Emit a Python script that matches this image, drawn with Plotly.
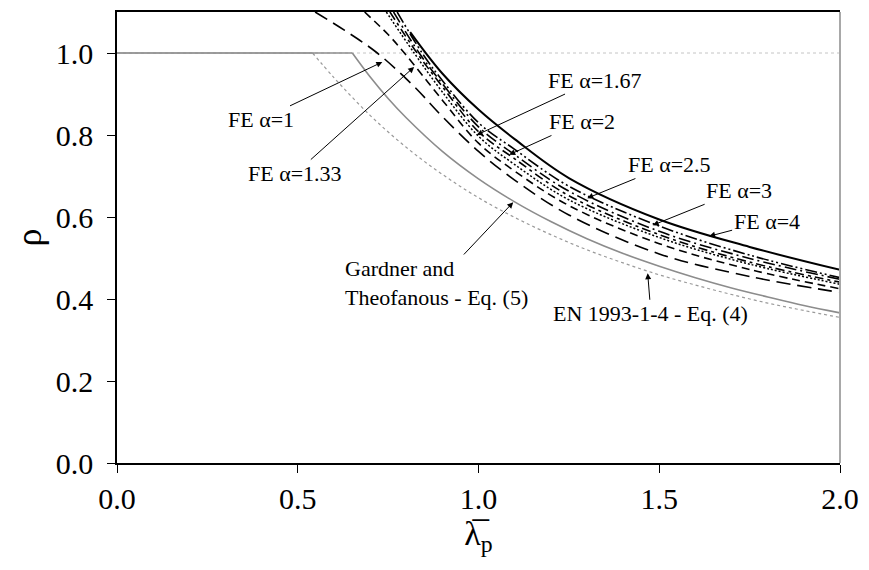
import plotly.graph_objects as go

# ---------------- data ----------------
gt_x = [0.0, 0.651, 0.7, 0.75, 0.8, 0.9, 1.0, 1.1, 1.2, 1.3, 1.4, 1.5, 1.6, 1.7, 1.8, 1.9, 2.0]
gt_y = [1.0, 1.0, 0.942, 0.889, 0.842, 0.760, 0.693, 0.637, 0.589, 0.547, 0.511, 0.480, 0.452, 0.427, 0.405, 0.384, 0.366]

en_x = [0.0, 0.541, 0.6, 0.7, 0.8, 0.9, 1.0, 1.1, 1.2, 1.3, 1.4, 1.5, 1.6, 1.7, 1.8, 1.9, 2.0]
en_y = [1.0, 1.0, 0.940, 0.848, 0.770, 0.704, 0.647, 0.599, 0.557, 0.520, 0.488, 0.459, 0.434, 0.411, 0.390, 0.372, 0.355]

ref_x = [0.0, 2.0]
ref_y = [1.0, 1.0]

fe1_x = [0.548, 0.63, 0.72, 0.82, 0.9, 1.0, 1.1, 1.25, 1.5, 1.75, 2.0]
fe1_y = [1.10, 1.055, 1.0, 0.92, 0.845, 0.76, 0.69, 0.605, 0.51, 0.455, 0.416]

fe133_x = [0.685, 0.75, 0.795, 0.9, 1.0, 1.1, 1.25, 1.5, 1.75, 2.0]
fe133_y = [1.10, 1.045, 1.0, 0.885, 0.78, 0.712, 0.628, 0.535, 0.472, 0.425]

fe167_x = [0.745, 0.822, 0.9, 1.0, 1.1, 1.25, 1.5, 1.75, 2.0]
fe167_y = [1.10, 1.0, 0.905, 0.797, 0.728, 0.642, 0.55, 0.485, 0.436]

fe2_x = [0.755, 0.83, 0.9, 1.0, 1.1, 1.25, 1.5, 1.75, 2.0]
fe2_y = [1.10, 1.0, 0.918, 0.808, 0.742, 0.652, 0.557, 0.49, 0.441]

fe25_x = [0.765, 0.836, 0.9, 1.0, 1.1, 1.25, 1.5, 1.75, 2.0]
fe25_y = [1.10, 1.0, 0.925, 0.82, 0.752, 0.663, 0.565, 0.499, 0.448]

fe3_x = [0.775, 0.844, 0.9, 1.0, 1.1, 1.25, 1.5, 1.75, 2.0]
fe3_y = [1.10, 1.0, 0.933, 0.83, 0.765, 0.675, 0.578, 0.507, 0.452]

fe4_x = [0.811, 0.9, 1.0, 1.1, 1.25, 1.5, 1.75, 2.0]
fe4_y = [1.051, 0.95, 0.862, 0.79, 0.695, 0.594, 0.527, 0.471]

x_ticks = [0.0, 0.5, 1.0, 1.5, 2.0]
y_ticks = [0.0, 0.2, 0.4, 0.6, 0.8, 1.0]

# labels: text, arrow tip (x, y), text position (x, y)
labels = [
    ("FE α=1", 0.734, 0.978, 0.397, 0.837),
    ("FE α=1.33", 0.822, 0.966, 0.493, 0.706),
    ("FE α=1.67", 0.995, 0.800, 1.323, 0.934),
    ("FE α=2", 1.085, 0.752, 1.287, 0.833),
    ("FE α=2.5", 1.301, 0.646, 1.529, 0.728),
    ("FE α=3", 1.482, 0.580, 1.721, 0.665),
    ("FE α=4", 1.638, 0.553, 1.797, 0.590),
    ("Gardner and<br>Theofanous - Eq. (5)", 1.096, 0.636, 0.885, 0.439),
    ("EN 1993-1-4 - Eq. (4)", 1.468, 0.463, 1.477, 0.364),
]

FONT = "Liberation Serif"

fig = go.Figure()

fig.add_trace(go.Scatter(x=ref_x, y=ref_y, mode="lines",
                         line=dict(color="#c4c4c4", width=1, dash="dot")))
# EN 1993-1-4: plateau + curve
fig.add_trace(go.Scatter(x=en_x[:2], y=en_y[:2], mode="lines",
                         line=dict(color="#9a9a9a", width=1.2)))
fig.add_trace(go.Scatter(x=en_x[1:], y=en_y[1:], mode="lines",
                         line=dict(color="#9a9a9a", width=1.2, dash="dot", shape="spline")))
# Gardner and Theofanous: plateau + curve
fig.add_trace(go.Scatter(x=gt_x[:2], y=gt_y[:2], mode="lines",
                         line=dict(color="#8c8c8c", width=1.6)))
fig.add_trace(go.Scatter(x=gt_x[1:], y=gt_y[1:], mode="lines",
                         line=dict(color="#8c8c8c", width=1.6, shape="spline")))

fe_series = [
    (fe1_x, fe1_y, "14px,7px", 1.6),
    (fe133_x, fe133_y, "8px,5px", 1.6),
    (fe167_x, fe167_y, "2px,2px", 1.5),
    (fe2_x, fe2_y, "9px,4px,3px,4px", 1.6),
    (fe25_x, fe25_y, "12px,4px,2px,4px", 1.6),
    (fe3_x, fe3_y, "12px,3px,2px,3px,2px,3px", 1.6),
    (fe4_x, fe4_y, "solid", 2.0),
]
for xs, ys, dash, w in fe_series:
    fig.add_trace(go.Scatter(x=xs, y=ys, mode="lines",
                             line=dict(color="black", width=w, dash=dash, shape="spline")))

for text, tx, ty, lx, ly in labels:
    fig.add_annotation(x=tx, y=ty, ax=lx, ay=ly, xref="x", yref="y",
                       axref="x", ayref="y", text=text, showarrow=True,
                       arrowhead=2, arrowsize=1.2, arrowwidth=1, arrowcolor="black",
                       align="left", font=dict(family=FONT, size=22, color="black"))

fig.add_shape(type="line", xref="paper", yref="paper", x0=1, x1=1, y0=0, y1=1,
              line=dict(color="#a8a8a8", width=2))

fig.update_layout(
    width=869, height=570,
    margin=dict(l=117, r=22, t=10, b=107),
    paper_bgcolor="white", plot_bgcolor="white",
    showlegend=False,
    font=dict(family=FONT, color="black"),
)
fig.update_xaxes(range=[0, 2.0], tickvals=x_ticks,
                 ticktext=[f"{v:.1f}" for v in x_ticks],
                 showgrid=False, zeroline=False, showline=True, linecolor="black",
                 linewidth=1.5, mirror=True, ticks="outside", ticklen=8, tickcolor="black",
                 tickfont=dict(family=FONT, size=30),
                 title=dict(text="λ̅<sub>p</sub>", font=dict(family=FONT, size=34), standoff=6))
fig.update_yaxes(range=[0, 1.1], tickvals=y_ticks,
                 ticktext=[f"{v:.1f}" for v in y_ticks],
                 showgrid=False, zeroline=False, showline=True, linecolor="black",
                 linewidth=1.5, ticks="outside", ticklen=8, tickcolor="black",
                 ticklabelstandoff=8,
                 tickfont=dict(family=FONT, size=30),
                 title=dict(text="ρ", font=dict(family=FONT, size=36), standoff=3))

fig.write_html("out.html")
